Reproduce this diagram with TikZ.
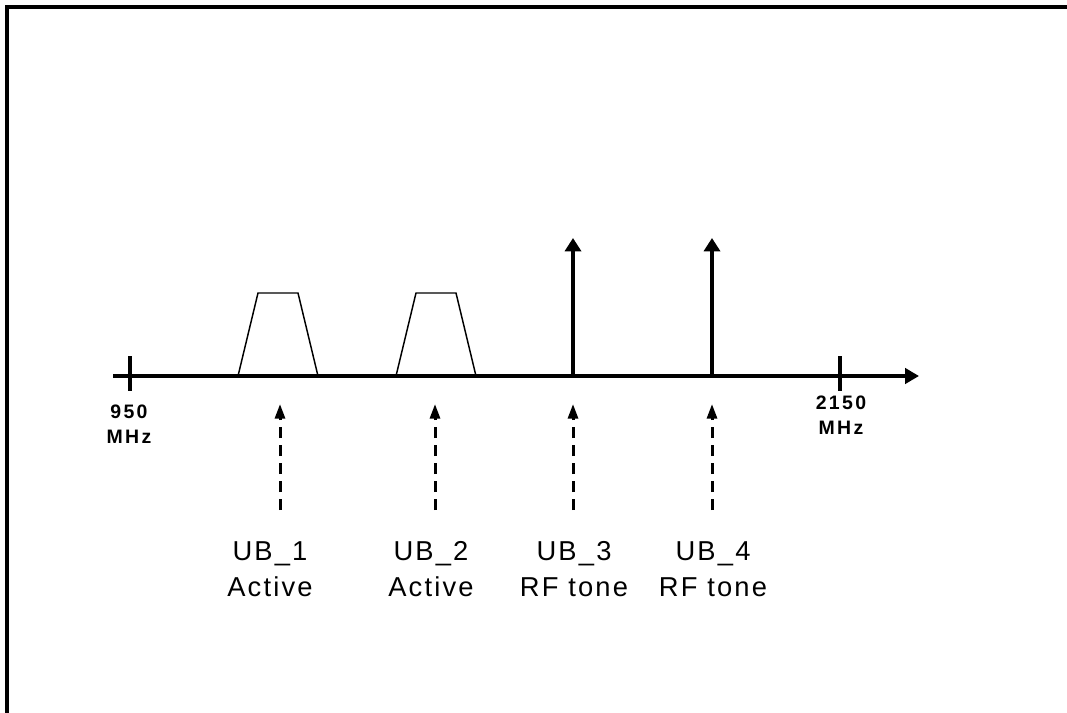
\documentclass[tikz,border=0pt]{standalone}
\usepackage{fontspec}
\setmainfont{Liberation Sans}
\newfontfamily\etfont[LetterSpace=8]{Liberation Sans}
\newfontfamily\tkfont[LetterSpace=12]{Liberation Sans}
\usetikzlibrary{arrows.meta}

\begin{document}
\begin{tikzpicture}[
    x=0.75pt, y=-0.75pt,
    et/.style={font=\fontsize{20.5}{27}\selectfont\etfont, align=center,
               inner sep=0pt, anchor=base},
    tk/.style={font=\fontsize{14.6}{18.5}\selectfont\tkfont\bfseries,
               align=center, inner sep=0pt, anchor=base},
    asse/.style={line width=3pt},
    banda/.style={line width=1.1pt, line join=miter},
    tono/.style={line width=3pt, -{Triangle[length=10pt, width=12pt]}},
    freccia/.style={line width=2.25pt, dash pattern=on 8pt off 5.5pt,
                    -{Triangle[length=11pt, width=7.5pt]}},
  ]
  \useasboundingbox (0,0) rectangle (1067,713);

  % --- cornice: solo lato superiore e sinistro ---
  \draw[line width=3pt] (7,713) -- (7,7) -- (1067,7);

  % --- asse delle frequenze ---
  \coordinate (a0) at (113,376);
  \coordinate (a1) at (919,376);
  \draw[asse, -{Triangle[length=10.5pt, width=11.5pt]}] (a0) -- (a1);

  \draw[asse] (130,356) -- (130,391);
  \draw[asse] (840,356) -- (840,391);
  % (anchor=base: linea di base dell'ultima riga)
  \node[tk] (f950)  at (129,443) {950\\MHz};
  \node[tk] (f2150) at (841,434) {2150\\MHz};

  % --- bande attive UB_1 e UB_2 ---
  \draw[banda] (238,376) -- (258,293) -- (298,293) -- (318,376);
  \draw[banda] (396,376) -- (416,293) -- (456,293) -- (476,376);

  % --- toni RF UB_3 e UB_4 ---
  \coordinate (s3) at (573,376);
  \coordinate (p3) at (573,238);
  \coordinate (s4) at (712,376);
  \coordinate (p4) at (712,238);
  \draw[tono] (s3) -- (p3);
  \draw[tono] (s4) -- (p4);

  % --- frecce tratteggiate verso le etichette ---
  \coordinate (b1) at (280,510);
  \coordinate (t1) at (280,404);
  \coordinate (b2) at (435,510);
  \coordinate (t2) at (435,404);
  \coordinate (b3) at (573,510);
  \coordinate (t3) at (573,404);
  \coordinate (b4) at (712,510);
  \coordinate (t4) at (712,404);
  \draw[freccia] (b1) -- (t1);
  \draw[freccia] (b2) -- (t2);
  \draw[freccia] (b3) -- (t3);
  \draw[freccia] (b4) -- (t4);

  % --- etichette dei canali ---
  \node[et] (ub1) at (270,596) {UB\_1\\Active};
  \node[et] (ub2) at (431,596) {UB\_2\\Active};
  \node[et] (ub3) at (574,596) {UB\_3\\RF tone};
  \node[et] (ub4) at (713,596) {UB\_4\\RF tone};

\end{tikzpicture}
\end{document}
